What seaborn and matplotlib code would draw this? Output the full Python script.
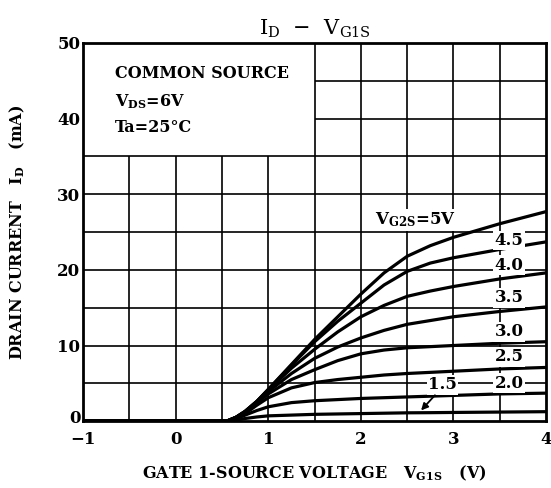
import numpy as np
import pandas as pd
import matplotlib
matplotlib.use('Agg')
import matplotlib.pyplot as plt
import matplotlib.transforms as mtrans
import seaborn as sb

sb.set_style('white')
plt.rcParams['font.family'] = ['DejaVu Serif']
plt.rcParams['mathtext.fontset'] = 'custom'
plt.rcParams['mathtext.rm'] = 'DejaVu Serif'
plt.rcParams['mathtext.bf'] = 'DejaVu Serif:bold'
plt.rcParams['text.color'] = 'black'
plt.rcParams['axes.labelcolor'] = 'black'
plt.rcParams['xtick.color'] = 'black'
plt.rcParams['ytick.color'] = 'black'

# gate-1 voltage points (V)
vg1s = [-1.0, 0.0, 0.55, 0.65, 0.75, 0.875, 1.0, 1.25, 1.5, 1.75, 2.0, 2.25, 2.5, 2.75, 3.0, 3.5, 4.0]

# drain current (mA) for each V_G2S
id_5v0 = [0, 0, 0, 0.5, 1.3, 2.6, 4.2, 7.5, 10.8, 13.8, 16.8, 19.6, 21.8, 23.2, 24.3, 26.1, 27.7]
id_4v5 = [0, 0, 0, 0.5, 1.3, 2.6, 4.2, 7.4, 10.5, 13.2, 15.6, 18.0, 19.8, 20.9, 21.6, 22.7, 23.7]
id_4v0 = [0, 0, 0, 0.5, 1.3, 2.6, 4.1, 7.0, 9.5, 11.8, 13.8, 15.3, 16.5, 17.2, 17.8, 18.8, 19.6]
id_3v5 = [0, 0, 0, 0.5, 1.2, 2.5, 3.9, 6.3, 8.3, 9.8, 11.0, 12.0, 12.8, 13.3, 13.8, 14.5, 15.1]
id_3v0 = [0, 0, 0, 0.5, 1.2, 2.4, 3.6, 5.5, 6.8, 8.0, 8.9, 9.4, 9.7, 9.85, 10.0, 10.3, 10.5]
id_2v5 = [0, 0, 0, 0.4, 1.0, 2.1, 3.1, 4.4, 5.1, 5.5, 5.8, 6.1, 6.3, 6.45, 6.6, 6.9, 7.1]
id_2v0 = [0, 0, 0, 0.3, 0.8, 1.4, 1.9, 2.45, 2.7, 2.85, 3.0, 3.1, 3.2, 3.3, 3.4, 3.6, 3.7]
id_1v5 = [0, 0, 0, 0.15, 0.35, 0.55, 0.7, 0.8, 0.9, 0.95, 1.0, 1.05, 1.1, 1.12, 1.15, 1.2, 1.25]

curves = {'5': id_5v0, '4.5': id_4v5, '4.0': id_4v0, '3.5': id_3v5,
          '3.0': id_3v0, '2.5': id_2v5, '2.0': id_2v0, '1.5': id_1v5}

rows = []
for k, v in curves.items():
    for x, y in zip(vg1s, v):
        rows.append((k, x, y))
df = pd.DataFrame(rows, columns=['vg2s', 'vg1s', 'id'])

fig = plt.figure(figsize=(5.51, 4.88), dpi=100)
ax = fig.add_axes([0.151, 0.137, 0.840, 0.775])

# grid (upper-left corner left blank for the conditions text)
for x in np.arange(-0.5, 4.0, 0.5):
    top = 50 if x >= 1.5 else 35
    ax.vlines(x, 0, top, color='black', lw=1.2, zorder=1)
for y in np.arange(5, 50, 5):
    left = -1 if y <= 35 else 1.5
    ax.hlines(y, left, 4, color='black', lw=1.2, zorder=1)

sb.lineplot(data=df, x='vg1s', y='id', hue='vg2s', palette=['black'] * 8,
            legend=False, lw=2.3, ax=ax, zorder=3)

ax.set_xlim(-1, 4)
ax.set_ylim(0, 50)
ax.set_xticks([-1, 0, 1, 2, 3, 4])
ax.set_xticklabels(['\u22121', '0', '1', '2', '3', '4'])
ax.set_yticks([0, 10, 20, 30, 40, 50])
ax.tick_params(axis='y', length=0, labelsize=12, pad=2)
ax.tick_params(axis='x', length=0, labelsize=12, pad=7)
for t in ax.get_xticklabels() + ax.get_yticklabels():
    t.set_fontweight('bold')
# nudge the "0" label up a little so it clears the "-1" below
y0 = ax.get_yticklabels()[0]
y0.set_transform(y0.get_transform() + mtrans.ScaledTranslation(0, 3 / 72, fig.dpi_scale_trans))
for s in ax.spines.values():
    s.set_linewidth(2)
    s.set_color('black')

bbox = dict(facecolor='white', edgecolor='none', pad=1)
lab = dict(fontsize=12, fontweight='bold', zorder=4, va='center', bbox=bbox)
ax.text(2.15, 26.6, r'$\mathbf{V_{G2S}}$=5V', ha='left', **lab)
ax.text(3.6, 23.9, '4.5', ha='center', **lab)
ax.text(3.6, 20.6, '4.0', ha='center', **lab)
ax.text(3.6, 16.3, '3.5', ha='center', **lab)
ax.text(3.6, 11.8, '3.0', ha='center', **lab)
ax.text(3.6, 8.5, '2.5', ha='center', **lab)
ax.text(3.6, 5.0, '2.0', ha='center', **lab)
ax.text(2.88, 4.8, '1.5', ha='center', **lab)
ax.annotate('', xy=(2.63, 1.15), xytext=(2.82, 3.7),
            arrowprops=dict(arrowstyle='-|>', color='black', lw=1.3), zorder=4)

# conditions
cond = dict(fontsize=11.5, fontweight='bold', ha='left', va='center')
ax.text(-0.66, 46.0, 'COMMON SOURCE', **cond)
ax.text(-0.66, 42.3, r'$\mathbf{V_{DS}}$=6V', **cond)
ax.text(-0.66, 38.8, 'Ta=25\u00b0C', **cond)

ax.set_title('$\\mathrm{I_D}$  \u2212  $\\mathrm{V_{G1S}}$', fontsize=15, pad=6)
ax.set_xlabel(r'GATE 1-SOURCE VOLTAGE   $\mathbf{V_{G1S}}$   (V)',
              fontsize=11.5, fontweight='bold', labelpad=11)
ax.set_ylabel(r'DRAIN CURRENT   $\mathbf{I_D}$   (mA)',
              fontsize=11.5, fontweight='bold', labelpad=22)

fig.savefig('out.png', dpi=100)
